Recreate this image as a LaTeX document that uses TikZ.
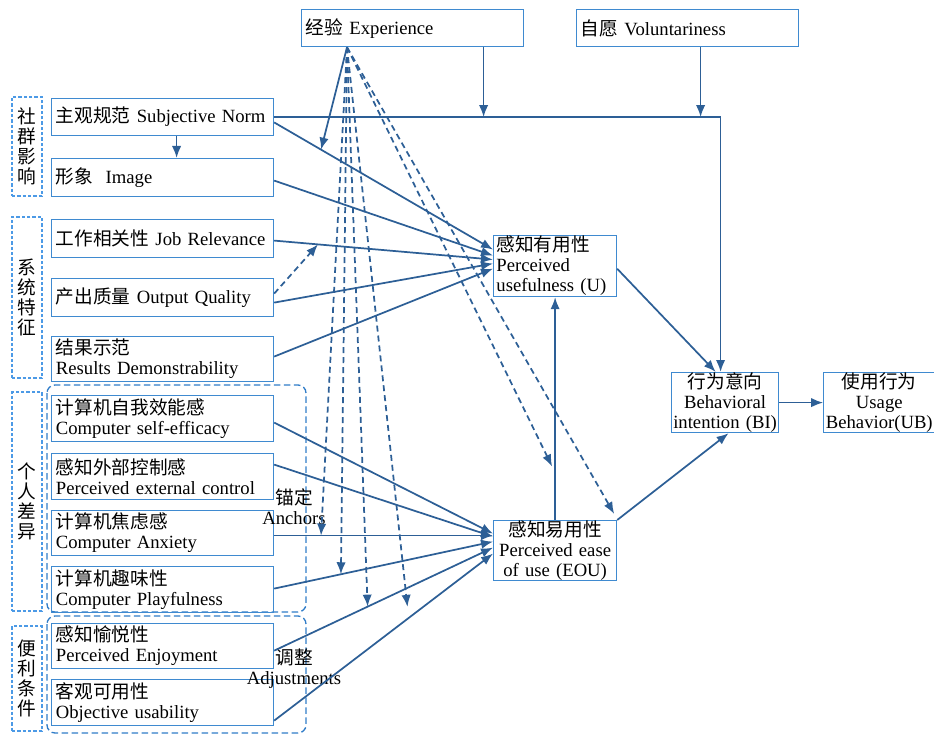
\documentclass[tikz,border=0pt]{standalone}
\usepackage{fontspec}
\setmainfont{Liberation Serif}
\newfontfamily\cjk{Noto Sans CJK SC}
\usepackage{tikz}
\usetikzlibrary{positioning, arrows.meta, calc}

\begin{document}
\begin{tikzpicture}[x=0.75pt, y=-0.75pt, font=\fontsize{14}{15}\selectfont,
        factor/.style={draw=boxblue, line width=0.9pt, anchor=north west, minimum width=166.5pt, text width=160pt, inner xsep=3pt, inner ysep=0pt, align=left},
        core/.style={draw=boxblue, line width=0.9pt, anchor=north west, inner xsep=2pt, inner ysep=0pt, minimum height=45pt},
        grouplabel/.style={draw=groupblue, line width=0.8pt, dash pattern=on 2.5pt off 1.5pt, minimum width=22.5pt, inner sep=0pt, align=center, font=\fontsize{14}{15}\cjk},
        pool/.style={draw=poolblue, line width=1pt, dash pattern=on 5pt off 2.5pt, rounded corners=6pt},
        link/.style={draw=linkblue, line width=1.3pt, -{Latex[length=9pt, width=7pt]}},
        mod/.style={link, dash pattern=on 4.5pt off 3pt},
        note/.style={align=center, inner sep=0pt}]
        \definecolor{linkblue}{HTML}{2D5F96}
        \definecolor{boxblue}{HTML}{3F8AD0}
        \definecolor{groupblue}{HTML}{4C9AE6}
        \definecolor{poolblue}{HTML}{2F7CC8}
        \useasboundingbox (0,0) rectangle (934,734);

        \node[grouplabel, minimum height=74.25pt] (SOC) at (27,146.5) {社\\群\\影\\响};
        \node[grouplabel, minimum height=120.75pt] (SYS) at (27,297.5) {系\\统\\特\\征};
        \node[grouplabel, minimum height=164.25pt] (IND) at (27,501.5) {个\\人\\差\\异};
        \node[grouplabel, minimum height=78.75pt] (FAC) at (27,678.5) {便\\利\\条\\件};

        \draw[pool] (47,385) rectangle (306,612);
        \draw[pool] (47,616) rectangle (306,733);

        \begin{scope}[every node/.style={factor}]
            \node[minimum height=27.75pt] (EXP) at (301,9) {{\cjk 经验} Experience};
            \node[minimum height=27.75pt] (VOL) at (576,9) {{\cjk 自愿} Voluntariness};
            \node[minimum height=27.75pt] (SN) at (51,98) {{\cjk 主观规范} Subjective Norm};
            \node[minimum height=28.5pt] (IMG) at (51,158) {{\cjk 形象}\ \ Image};
            \node[minimum height=28.5pt] (JR) at (51,219) {{\cjk 工作相关性} Job Relevance};
            \node[minimum height=28.5pt] (OQ) at (51,278) {{\cjk 产出质量} Output Quality};
            \node[minimum height=33.75pt] (RD) at (51,336) {{\cjk 结果示范}\\Results Demonstrability};
            \node[minimum height=34.5pt] (CSE) at (51,395) {{\cjk 计算机自我效能感}\\Computer self-efficacy};
            \node[minimum height=34.5pt] (PEC) at (51,453) {{\cjk 感知外部控制感}\\Perceived external control};
            \node[minimum height=33.75pt] (CANX) at (51,510) {{\cjk 计算机焦虑感}\\Computer Anxiety};
            \node[minimum height=34.5pt] (CPLAY) at (51,566) {{\cjk 计算机趣味性}\\Computer Playfulness};
            \node[minimum height=33.75pt] (ENJ) at (51,623) {{\cjk 感知愉悦性}\\Perceived Enjoyment};
            \node[minimum height=34.5pt] (OU) at (51,679) {{\cjk 客观可用性}\\Objective usability};
        \end{scope}

        \node[core, minimum width=92.25pt, minimum height=45.75pt, text width=88pt, align=left] (U) at (493,235) {{\cjk 感知有用性}\\Perceived\\usefulness (U)};
        \node[core, minimum width=92.25pt, text width=88pt, align=center] (EOU) at (493,520) {{\cjk 感知易用性}\\Perceived ease\\of use (EOU)};
        \node[core, minimum width=80.25pt, text width=78pt, inner xsep=1pt, align=center] (BI) at (671,372) {{\cjk 行为意向}\\Behavioral\\intention (BI)};
        \node[core, minimum width=83.25pt, text width=81pt, inner xsep=1pt, align=center, right=33pt of BI] (UB) {{\cjk 使用行为}\\Usage\\Behavior(UB)};

        \node[note] (ANC) at (294,507) {{\cjk 锚定}\\Anchors};
        \node[note] (ADJ) at (294,669) {{\cjk 调整}\\Adjustments};

        \coordinate (EXP_src) at ([xshift=34.5pt]EXP.south west);
        \coordinate (EXP_drop) at ([xshift=53.25pt]EXP.south);
        \coordinate (VOL_drop) at ([xshift=9.75pt]VOL.south);
        \coordinate (BI_in) at ([xshift=-3.4pt]BI.north);

        \draw[link] (SN.east) -| (BI_in);
        \draw[link] (EXP_drop) -- (EXP_drop |- SN.east);
        \draw[link] (VOL_drop) -- (VOL_drop |- SN.east);
        \draw[link] ([xshift=10.5pt]SN.south) -- ([xshift=10.5pt]IMG.north);

        \draw[link] ([yshift=-4pt]SN.east) coordinate (SN_out) -- ([yshift=12.4pt]U.west) coordinate (U_sn);
        \draw[link] ([yshift=-2.25pt]IMG.east) -- ([yshift=7.9pt]U.west);
        \draw[link] ([yshift=-1.5pt]JR.east) coordinate (JR_out) -- ([yshift=4.9pt]U.west) coordinate (U_jr);
        \draw[link] ([yshift=-3.75pt]OQ.east) -- ([yshift=1.9pt]U.west);
        \draw[link] ([yshift=1.9pt]RD.east) -- ([yshift=-1.9pt]U.west);
        \draw[mod] ([yshift=3pt]OQ.east) -- ($(JR_out)!0.2!(U_jr)$);

        \draw[link] ([yshift=-3pt]CSE.east) -- ([yshift=12.75pt]EOU.west);
        \draw[link] ([yshift=9pt]PEC.east) -- ([yshift=10.5pt]EOU.west);
        \draw[link] ([yshift=11.25pt]EOU.west -| CANX.east) coordinate (CA_out) -- ([yshift=11.25pt]EOU.west) coordinate (EOU_ca);
        \draw[link] ([yshift=0.75pt]CPLAY.east) coordinate (CP_out) -- ([yshift=6.75pt]EOU.west) coordinate (EOU_cp);
        \draw[link] ([yshift=-3.4pt]ENJ.east) coordinate (PE_out) -- ([yshift=2.25pt]EOU.west) coordinate (EOU_pe);
        \draw[link] ([yshift=-13.5pt]OU.east) coordinate (OU_out) -- ([yshift=-2.25pt]EOU.west) coordinate (EOU_ou);

        \draw[link] (EOU.north) -- (U.south);
        \draw[link] ([yshift=-2pt]U.east) -- ([xshift=-7pt]BI.north);
        \draw[link] (EOU.north east) coordinate (EOU_ne) -- ([xshift=2.6pt]BI.south);
        \draw[link] (BI.east) -- (UB.west);

        \draw[link] (EXP_src) -- ($(SN_out)!0.214!(U_sn)$);
        \draw[mod] (EXP_src) -- ($(CA_out)!0.214!(EOU_ca)$);
        \draw[mod] (EXP_src) -- ($(CP_out)!0.305!(EOU_cp)$);
        \draw[mod] (EXP_src) -- ($(PE_out)!0.427!(EOU_pe)$);
        \draw[mod] (EXP_src) -- ($(OU_out)!0.609!(EOU_ou)+(0,-12)$);
        \draw[mod] (EXP_src) -- ($(EOU.north)!0.24!(U.south)+(-3,0)$);
        \draw[mod] (EXP_src) -- ($(EOU_ne)+(-3,-6)$);
    \end{tikzpicture}
\end{document}
